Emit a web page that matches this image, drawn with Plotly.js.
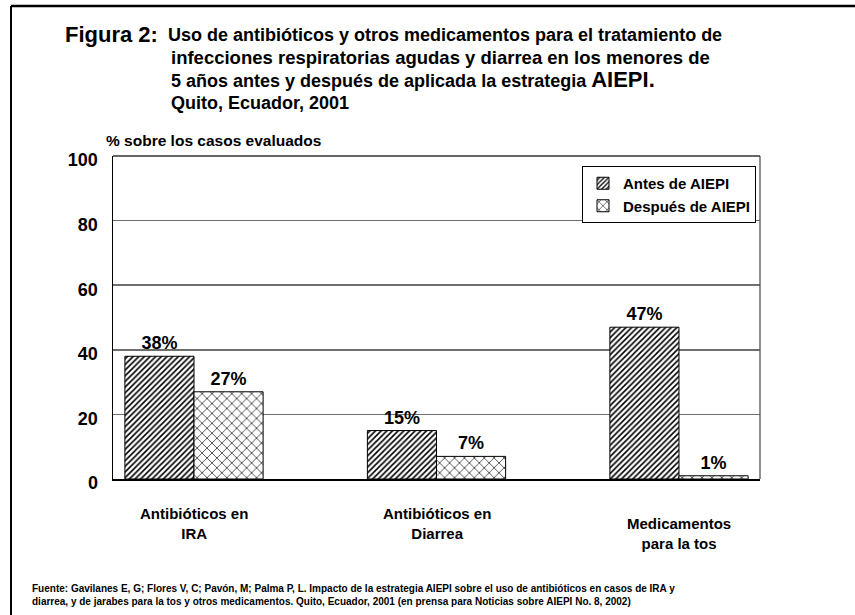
<!DOCTYPE html>
<html>
<head>
<meta charset="utf-8">
<script src="https://cdn.plot.ly/plotly-3.0.1.min.js"></script>
<style>
  html, body { margin: 0; padding: 0; background: #fff; }
  #chart { width: 855px; height: 615px; }
</style>
</head>
<body>
<div id="chart"></div>
<script>
// ---- data ----
const categories = ["Antibióticos en<br>IRA", "Antibióticos en<br>Diarrea", "Medicamentos<br>para la tos"];
const antes = [38, 15, 47];
const despues = [27, 7, 1];
const seriesNames = ["Antes de AIEPI", "Después de AIEPI"];
const yTicks = [0, 20, 40, 60, 80, 100];

// ---- geometry helpers (plot area in pixels) ----
const L = 113, R = 760, T = 156, B = 479;
const W = R - L, H = B - T;
const px = p => (p - L) / W;
const py = p => (B - p) / H;

const SANS = "Liberation Sans, Arial, sans-serif";

const xIdx = categories.map((_, i) => i);

const traces = [
  {
    type: "bar", name: seriesNames[0], x: xIdx, y: antes,
    text: antes.map(v => v + "%"), textposition: "outside", cliponaxis: false,
    textfont: { family: SANS, size: 18, color: "#000", weight: "bold" },
    marker: { color: "#fff", line: { color: "#000", width: 1 },
      pattern: { shape: "/", size: 4, solidity: 0.4, fgcolor: "#000", bgcolor: "#fff", fillmode: "replace" } },
    hoverinfo: "skip"
  },
  {
    type: "bar", name: seriesNames[1], x: xIdx, y: despues,
    text: despues.map(v => v + "%"), textposition: "outside", cliponaxis: false,
    textfont: { family: SANS, size: 18, color: "#000", weight: "bold" },
    marker: { color: "#fff", line: { color: "#000", width: 1 },
      pattern: { shape: "x", size: 7, solidity: 0.18, fgcolor: "#000", bgcolor: "#fff", fillmode: "replace" } },
    hoverinfo: "skip"
  }
];

const labelShift = [0, 0, -10];
const annotations = [];
categories.forEach((c, i) => {
  annotations.push({ xref: "x", yref: "paper", x: i, y: py(503), yanchor: "top", xanchor: "center",
    yshift: labelShift[i], text: c, showarrow: false, align: "center",
    font: { family: SANS, size: 15, color: "#000", weight: "bold" } });
});

const titleFont = { family: SANS, size: 18, color: "#000", weight: "bold" };
annotations.push(
  { xref: "paper", yref: "paper", x: px(63), y: py(34), xanchor: "left", yanchor: "middle", showarrow: false,
    text: "Figura 2:", font: { family: SANS, size: 22, color: "#000", weight: "bold" } },
  { xref: "paper", yref: "paper", x: px(166), y: py(35), xanchor: "left", yanchor: "middle", showarrow: false,
    text: "Uso de antibióticos y otros medicamentos para el tratamiento de", font: titleFont },
  { xref: "paper", yref: "paper", x: px(169), y: py(57), xanchor: "left", yanchor: "middle", showarrow: false,
    text: "infecciones respiratorias agudas y diarrea en los menores de", font: { family: SANS, size: 18.5, color: "#000", weight: "bold" } },
  { xref: "paper", yref: "paper", x: px(169), y: py(80), xanchor: "left", yanchor: "middle", showarrow: false,
    text: "5 años antes y después de aplicada la estrategia <span style='font-size:22px'>AIEPI.</span>", font: titleFont },
  { xref: "paper", yref: "paper", x: px(169), y: py(103), xanchor: "left", yanchor: "middle", showarrow: false,
    text: "Quito, Ecuador, 2001", font: titleFont },
  { xref: "paper", yref: "paper", x: px(104), y: py(141), xanchor: "left", yanchor: "middle", showarrow: false,
    text: "% sobre los casos evaluados", font: { family: SANS, size: 15.5, color: "#000", weight: "bold" } },
  { xref: "paper", yref: "paper", x: px(30), y: py(595), xanchor: "left", yanchor: "middle", showarrow: false, align: "left",
    text: "Fuente: Gavilanes E, G; Flores V, C; Pavón, M; Palma P, L. Impacto de la estrategia AIEPI sobre el uso de antibióticos en casos de IRA y<br>diarrea, y de jarabes para la tos y otros medicamentos. Quito, Ecuador, 2001 (en prensa para Noticias sobre AIEPI No. 8, 2002)",
    font: { family: SANS, size: 10, color: "#000", weight: "bold" } }
);

const layout = {
  width: 855, height: 615,
  margin: { l: L, r: 855 - R, t: T, b: 615 - B, pad: 0 },
  paper_bgcolor: "#fff", plot_bgcolor: "#fff",
  showlegend: true,
  barmode: "group", bargap: 0.43, bargroupgap: 0,
  xaxis: { range: [-0.334, 2.334], showticklabels: false, ticks: "", showgrid: false, zeroline: false,
    showline: true, linecolor: "#000", linewidth: 1.5, fixedrange: true },
  yaxis: { range: [0, 100], tickvals: yTicks, ticktext: yTicks.map(String), showgrid: true,
    gridcolor: "#6e6e6e", gridwidth: 1.5, zeroline: false, showline: true, linecolor: "#000", linewidth: 1.5,
    ticks: "", ticklabelstandoff: 10, ticklabelshift: 4,
    tickfont: { family: SANS, size: 18, color: "#000", weight: "bold" }, fixedrange: true },
  legend: { x: px(756), y: py(166), xanchor: "right", yanchor: "top", bgcolor: "#fff",
    bordercolor: "#000", borderwidth: 1, font: { family: SANS, size: 15, color: "#000", weight: "bold" },
    itemwidth: 30, tracegroupgap: 0, traceorder: "normal" },
  annotations: annotations,
  shapes: [
    { type: "line", xref: "paper", yref: "paper", x0: 1, x1: 1, y0: 0, y1: 1, line: { color: "#555", width: 1.3 } },
    { type: "line", xref: "paper", yref: "paper", x0: 0, x1: 1, y0: 1, y1: 1, line: { color: "#333", width: 1.3 } },
    { type: "line", xref: "paper", yref: "paper", x0: px(11), x1: px(855), y0: py(6), y1: py(6), line: { color: "#000", width: 2.5 } },
    { type: "line", xref: "paper", yref: "paper", x0: px(11), x1: px(11), y0: py(6), y1: py(615), line: { color: "#000", width: 2 } }
  ]
};

Plotly.newPlot("chart", traces, layout, { staticPlot: true, displayModeBar: false });
</script>
</body>
</html>
